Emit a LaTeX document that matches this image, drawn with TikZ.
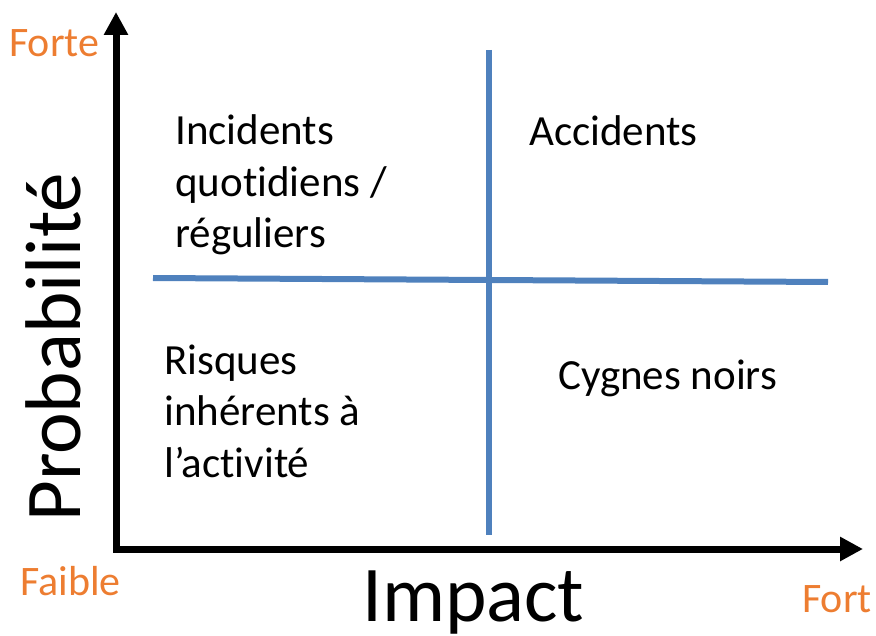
\documentclass[tikz,border=0pt]{standalone}
\usepackage{fontspec}
\setmainfont{Carlito}[Ligatures=NoCommon]
\usetikzlibrary{arrows.meta}
\definecolor{axisorange}{HTML}{ED7D31}
\definecolor{quadblue}{HTML}{4F81BD}
\tikzset{
  axisline/.style={line width=7pt, line join=miter, {Triangle[length=23pt,width=23pt]}-{Triangle[length=23pt,width=23pt]}},
  divider/.style={quadblue, line width=6pt},
  endlabel/.style={anchor=base west, inner sep=0pt, text=axisorange, font=\fontsize{42}{50}\selectfont},
  quadtext/.style={anchor=base west, inner sep=0pt, align=left, font=\fontsize{43}{51.5}\selectfont},
  axistitle/.style={inner sep=0pt, font=\fontsize{79}{92}\selectfont},
}
\begin{document}
\begin{tikzpicture}[x=1pt,y=-1pt]
\useasboundingbox (0,0) rectangle (876,636);
% axes
\coordinate (ytip) at (116,12);
\coordinate (origin) at (116,549);
\coordinate (xtip) at (863,549);
\draw[axisline] (ytip) -- (origin) -- (xtip);
% dividers
\coordinate (vtop) at (489,50);
\coordinate (vbot) at (489,535);
\coordinate (hleft) at (153,278);
\coordinate (hright) at (828,282);
\draw[divider] (vtop) -- (vbot);
\draw[divider] (hleft) -- (hright);
% end labels
\node[endlabel] (forte) at (9,57) {Forte};
\node[endlabel] (faible) at (20,595) {Faible};
\node[endlabel] (fort) at (802,612) {Fort};
% axis titles
\node[axistitle, anchor=base west] (impact) at (362,621) {Impact};
\node[axistitle, anchor=base west, rotate=90] (proba) at (80,522) {Probabilité};
% quadrant texts (anchor at last line's baseline)
\node[quadtext] (q1) at (175,248) {Incidents\\quotidiens /\\réguliers};
\node[quadtext] (q2) at (529,146) {Accidents};
\node[quadtext] (q3) at (164,477) {Risques\\inhérents à\\l’activité};
\node[quadtext] (q4) at (558,389) {Cygnes noirs};
\end{tikzpicture}
\end{document}
